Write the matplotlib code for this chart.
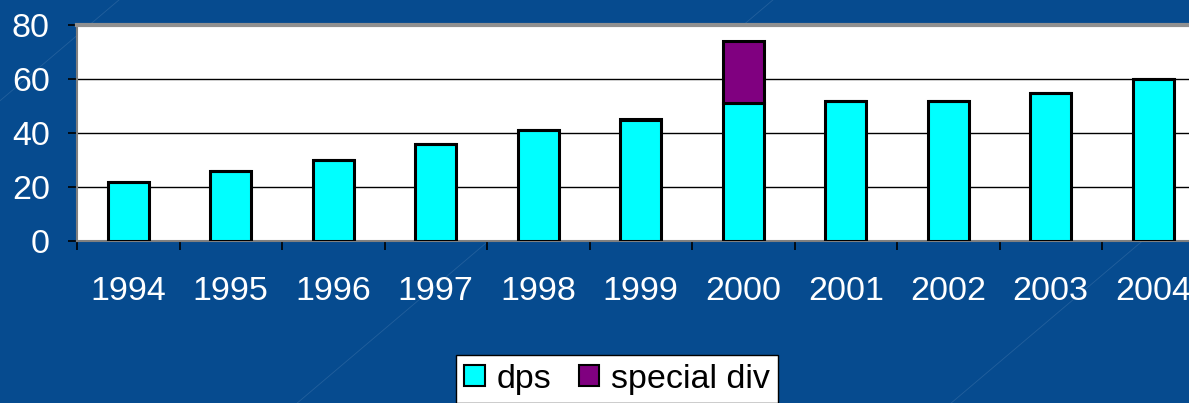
import matplotlib
matplotlib.use('Agg')
import matplotlib.pyplot as plt
from matplotlib.lines import Line2D
import numpy as np

years = ['1994', '1995', '1996', '1997', '1998', '1999',
         '2000', '2001', '2002', '2003', '2004']
dps = [22, 26, 30, 36, 41, 45, 51, 52, 52, 55, 60]
special_div = [0, 0, 0, 0, 0, 0, 23, 0, 0, 0, 0]

BG = '#064B8F'
CYAN = '#00FFFF'
PURPLE = '#800080'

plt.rcParams['font.family'] = ['Liberation Sans', 'DejaVu Sans']

fig = plt.figure(figsize=(11.89, 4.03), dpi=100)
fig.patch.set_facecolor(BG)

# faint diagonal texture of the slide background
for x0 in [-0.3, 0.25, 0.8]:
    fig.add_artist(Line2D([x0, x0 + 0.4], [0.0, 1.0], transform=fig.transFigure,
                          color='#3F74AA', lw=0.6, alpha=0.5, zorder=0))

ax = fig.add_axes([77 / 1189, 162 / 403, 1127.5 / 1189, 216 / 403])
ax.set_facecolor('white')

x = np.arange(len(years))
ax.bar(x, dps, width=0.4, color=CYAN, edgecolor='black', linewidth=2.2,
       label='dps', zorder=3)
ax.bar(x, special_div, width=0.4, bottom=dps, color=PURPLE, edgecolor='black',
       linewidth=2.2, label='special div', zorder=3)

ax.set_xlim(-0.5, len(years) - 0.5)
ax.set_ylim(0, 80)
ax.set_yticks([0, 20, 40, 60, 80])
ax.yaxis.grid(True, color='black', linewidth=1)
ax.set_axisbelow(True)

ax.set_xticks(x)
ax.set_xticklabels(years)
ax.set_xticks(np.arange(len(years) + 1) - 0.5, minor=True)
ax.tick_params(axis='x', which='major', length=0, pad=25, labelsize=24.5,
               labelcolor='white')
ax.tick_params(axis='x', which='minor', length=6.5, width=1.2, color='black',
               direction='out')
ax.tick_params(axis='y', length=6.5, width=1.2, color='black', pad=13,
               labelsize=24.5, labelcolor='white')

for side in ['top', 'right']:
    ax.spines[side].set_visible(False)
ax.spines['left'].set_color('#808080')
ax.spines['left'].set_linewidth(1.5)
ax.spines['bottom'].set_color('#808080')
ax.spines['bottom'].set_linewidth(1.5)
# gray edge along the top of the plot area
ax.axhline(80, color='#909090', linewidth=3, clip_on=False, zorder=4)

handles, labels = ax.get_legend_handles_labels()
leg = fig.legend(handles, labels, loc='upper center',
                 bbox_to_anchor=(617 / 1189, 1 - 355 / 403), ncol=2,
                 fontsize=24.5, frameon=True, fancybox=False, framealpha=1,
                 handlelength=0.6, handleheight=0.6, handletextpad=0.35,
                 columnspacing=0.8, borderpad=0.25, borderaxespad=0)
leg.get_frame().set_edgecolor('black')
leg.get_frame().set_facecolor('white')
leg.get_frame().set_linewidth(1)
for h in leg.legend_handles:
    h.set_linewidth(1.5)

fig.savefig('out.png', dpi=100, facecolor=BG)
